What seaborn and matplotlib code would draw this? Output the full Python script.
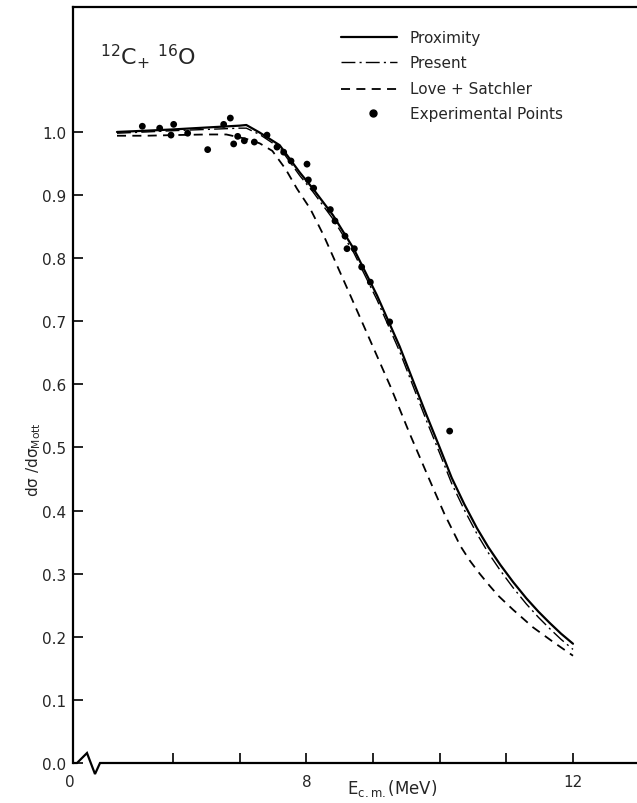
import numpy as np
import pandas as pd
import matplotlib
matplotlib.use("Agg")
import matplotlib.pyplot as plt
from matplotlib.lines import Line2D
import seaborn as sns

# Ratio of elastic cross section to Mott scattering, 12C + 16O
E_prox = [5.16, 5.6, 6.0, 6.5, 7.0, 7.1, 7.3, 7.6, 7.9, 8.1, 8.4, 8.71, 9.06,
          9.4, 9.8, 10.0, 10.18, 10.37, 10.56, 10.73, 10.91, 11.1, 11.3, 11.48,
          11.65, 11.82, 12.0]
v_prox = [1.000, 1.002, 1.004, 1.007, 1.010, 1.011, 0.999, 0.979, 0.936, 0.910,
          0.868, 0.815, 0.741, 0.660, 0.552, 0.500, 0.452, 0.410, 0.372, 0.342,
          0.314, 0.287, 0.261, 0.240, 0.222, 0.205, 0.189]

E_pres = [5.16, 5.6, 6.0, 6.5, 7.0, 7.1, 7.3, 7.6, 7.9, 8.1, 8.4, 8.71, 9.06,
          9.4, 9.8, 10.0, 10.18, 10.37, 10.56, 10.73, 10.91, 11.1, 11.3, 11.48,
          11.65, 11.82, 12.0]
v_pres = [0.998, 1.000, 1.002, 1.004, 1.006, 1.006, 0.996, 0.975, 0.931, 0.905,
          0.862, 0.809, 0.734, 0.652, 0.543, 0.491, 0.443, 0.401, 0.363, 0.333,
          0.305, 0.278, 0.252, 0.231, 0.213, 0.196, 0.180]

E_ls = [5.16, 5.6, 6.0, 6.5, 6.8, 7.1, 7.3, 7.49, 7.69, 7.86, 8.06, 8.26, 8.66,
        8.96, 9.26, 9.55, 9.83, 10.07, 10.31, 10.45, 10.6, 10.74, 10.88, 11.1,
        11.4, 11.7, 12.0]
v_ls = [0.994, 0.994, 0.995, 0.996, 0.996, 0.989, 0.982, 0.970, 0.941, 0.910,
        0.878, 0.836, 0.741, 0.669, 0.597, 0.522, 0.453, 0.395, 0.344, 0.321,
        0.300, 0.282, 0.265, 0.243, 0.215, 0.192, 0.170]

E_exp = [5.54, 5.80, 5.97, 6.01, 6.22, 6.52, 6.76, 6.86, 6.91, 6.97, 7.07, 7.22,
         7.41, 7.56, 7.66, 7.77, 8.01, 8.03, 8.11, 8.36, 8.43, 8.58, 8.61, 8.72,
         8.83, 8.96, 9.25, 10.15]
v_exp = [1.009, 1.006, 0.995, 1.012, 0.998, 0.972, 1.012, 1.022, 0.981, 0.993,
         0.986, 0.984, 0.995, 0.976, 0.968, 0.954, 0.949, 0.924, 0.911, 0.877,
         0.859, 0.835, 0.815, 0.815, 0.786, 0.762, 0.699, 0.526]

y_ticks = [0.0, 0.1, 0.2, 0.3, 0.4, 0.5, 0.6, 0.7, 0.8, 0.9, 1.0]
x_ticks = [6, 7, 8, 9, 10, 11, 12]
x_tick_labels = ["", "", "8", "", "", "", "12"]

legend_labels = ["Proximity", "Present", "Love + Satchler", "Experimental Points"]

sns.set_style("ticks")
plt.rcParams["font.family"] = ["DejaVu Sans"]
plt.rcParams["mathtext.default"] = "regular"

fig = plt.figure(figsize=(6.37, 8.04), dpi=100)
ax = fig.add_axes([73 / 637, 40 / 804, 564 / 637, 756 / 804])

df_prox = pd.DataFrame({"E": E_prox, "v": v_prox})
df_pres = pd.DataFrame({"E": E_pres, "v": v_pres})
df_ls = pd.DataFrame({"E": E_ls, "v": v_ls})
df_exp = pd.DataFrame({"E": E_exp, "v": v_exp})

solid_style = dict(color="black", lw=1.6, linestyle="-")
present_style = dict(color="black", lw=1.0, linestyle=(0, (10, 3, 1.5, 3)))
ls_style = dict(color="black", lw=1.3, linestyle=(0, (5, 3.5)))

sns.lineplot(data=df_prox, x="E", y="v", ax=ax, **solid_style)
sns.lineplot(data=df_pres, x="E", y="v", ax=ax, **present_style)
sns.lineplot(data=df_ls, x="E", y="v", ax=ax, **ls_style)
sns.scatterplot(data=df_exp, x="E", y="v", ax=ax, color="black", s=24,
                edgecolor="none", zorder=5)

ax.set_xlim(4.50, 12.96)
ax.set_ylim(0.0, 1.198)

ax.set_yticks(y_ticks)
ax.set_yticklabels([f"{t:.1f}" for t in y_ticks], fontsize=11)
ax.set_xticks(x_ticks)
ax.set_xticklabels(x_tick_labels, fontsize=11)
ax.tick_params(axis="both", direction="in", length=7, width=1.2, color="black")
ax.tick_params(axis="y", pad=5)
ax.tick_params(axis="x", pad=8)
ax.set_xlabel("")
ax.set_ylabel("")

for side in ("right", "bottom"):
    ax.spines[side].set_visible(False)
for side in ("top", "left"):
    ax.spines[side].set_linewidth(1.6)
    ax.spines[side].set_color("black")

# bottom axis with a break mark near the origin
bx = [0.0, 0.0071, 0.0248, 0.039, 0.0479, 1.0]
by = [0.0, 0.0, 0.0132, -0.0146, 0.0, 0.0]
ax.add_line(Line2D(bx, by, transform=ax.transAxes, color="black", lw=1.6,
                   clip_on=False, solid_joinstyle="miter"))

ax.annotate("0", xy=(0, 0), xycoords="axes fraction", xytext=(-2, -8),
            textcoords="offset points", ha="center", va="top", fontsize=11)

ax.text(392, 15, r"E$_{c.m.}$(MeV)", transform=None, ha="center",
        va="center", fontsize=12)

fig.text(34 / 637, 1 - 460 / 804, r"d$\sigma$ /d$\sigma_{Mott}$",
         rotation=90, ha="center", va="center", fontsize=11)

ax.text(0.0479, 0.9246, r"$^{12}$C$_{+}$ $^{16}$O", transform=ax.transAxes,
        ha="left", va="baseline", fontsize=16)

# legend drawn as line samples with labels
def fx(px):
    return (px - 73) / 564

def fy(py):
    return (764 - py) / 756

rows = [(38, solid_style), (63, present_style), (90, ls_style)]
for (py, st), lab in zip(rows, legend_labels[:3]):
    ax.add_line(Line2D([fx(341), fx(397)], [fy(py), fy(py)],
                       transform=ax.transAxes, **st))
    ax.text(fx(410), fy(py), lab, transform=ax.transAxes, ha="left",
            va="center", fontsize=11)
ax.plot([fx(373)], [fy(114)], "o", color="black", ms=5, transform=ax.transAxes)
ax.text(fx(410), fy(114), legend_labels[3], transform=ax.transAxes, ha="left",
        va="center", fontsize=11)

fig.savefig("out.png", dpi=100)
